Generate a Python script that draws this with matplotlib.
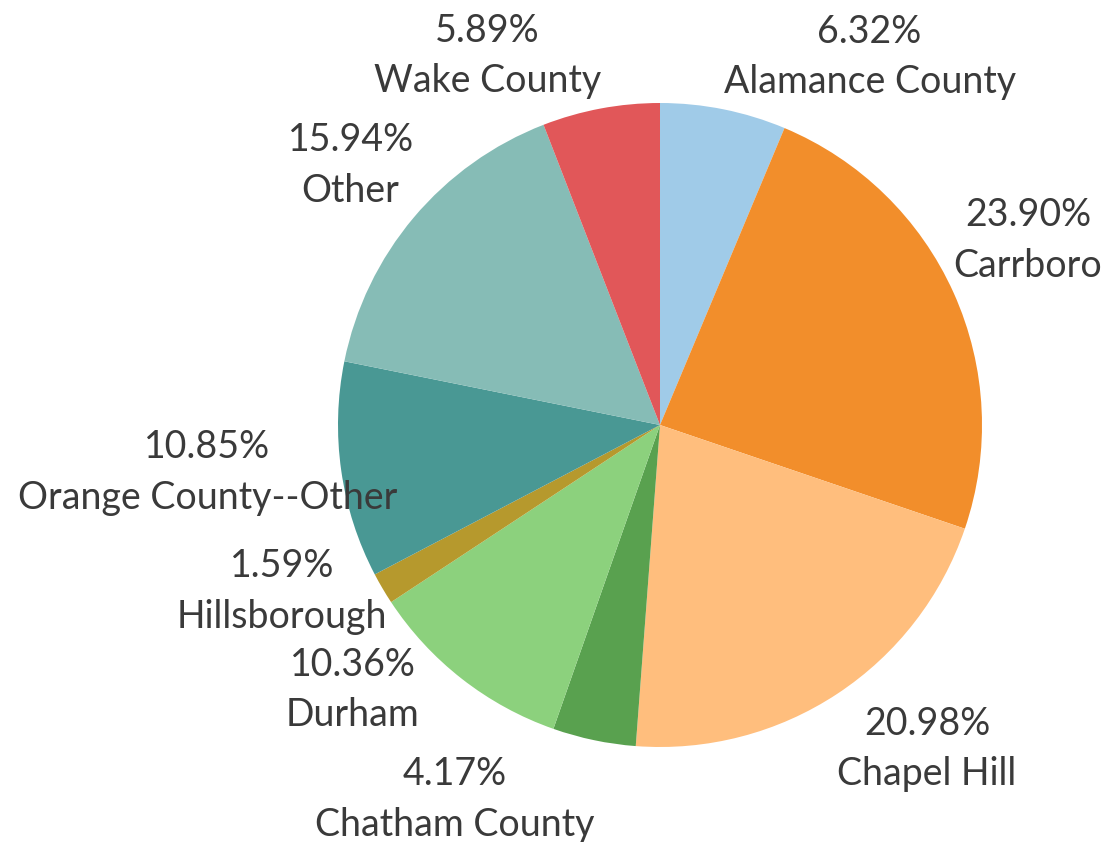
"""
Pie chart of locations
"""
import numpy as np
import matplotlib.pyplot as plt

labels = ["Alamance County", "Carrboro", "Chapel Hill", "Chatham County", "Durham",
          "Hillsborough", "Orange County--Other", "Other", "Wake County"]
shares = [6.32, 23.90, 20.98, 4.17, 10.36, 1.59, 10.85, 15.94, 5.89]
colors = ["#a0cbe8", "#f28e2b", "#ffbe7d", "#59a14f", "#8cd17d",
          "#b6992d", "#499894", "#86bcb6", "#e15759"]

# label tweaks: (ha, va, dx px, dy px)
tweaks = {
    "Durham": ("right", "center", -42, -11),
    "Hillsborough": ("right", "center", 5, -3),
    "Orange County--Other": ("right", "center", 56, -2),
    "Chatham County": ("right", "top", 0, -16),
}

W, H = 1115, 842
cx, cy, R = 660, 425, 322

fig = plt.figure(figsize=(W / 100, H / 100), dpi=100)
ax = fig.add_axes([0, 0, 1, 1])

wedges, _ = ax.pie(shares, colors=colors, startangle=90, counterclock=False,
                   radius=1, center=(0, 0), frame=True,
                   wedgeprops=dict(linewidth=0))
ax.axis("off")
ax.set_aspect("equal")
ax.set_xlim(-cx / R, (W - cx) / R)
ax.set_ylim(-(H - cy) / R, cy / R)

for w, name, val in zip(wedges, labels, shares):
    mid = np.deg2rad((w.theta1 + w.theta2) / 2)
    x, y = np.cos(mid), np.sin(mid)
    ha = "left" if x > 0 else "right"
    va = "bottom" if y > 0 else "top"
    dx, dy = 0, (9 if y > 0 else -12)
    if name in tweaks:
        ha, va, dx, dy = tweaks[name]
    ax.annotate(f"{val:.2f}%\n{name}", xy=(x, y), xytext=(dx, dy),
                textcoords="offset pixels", ha=ha, va=va, multialignment="center",
                fontsize=27, family="Lato", color="#3a3a3a", linespacing=1.5)

fig.savefig("out.png", dpi=100)
